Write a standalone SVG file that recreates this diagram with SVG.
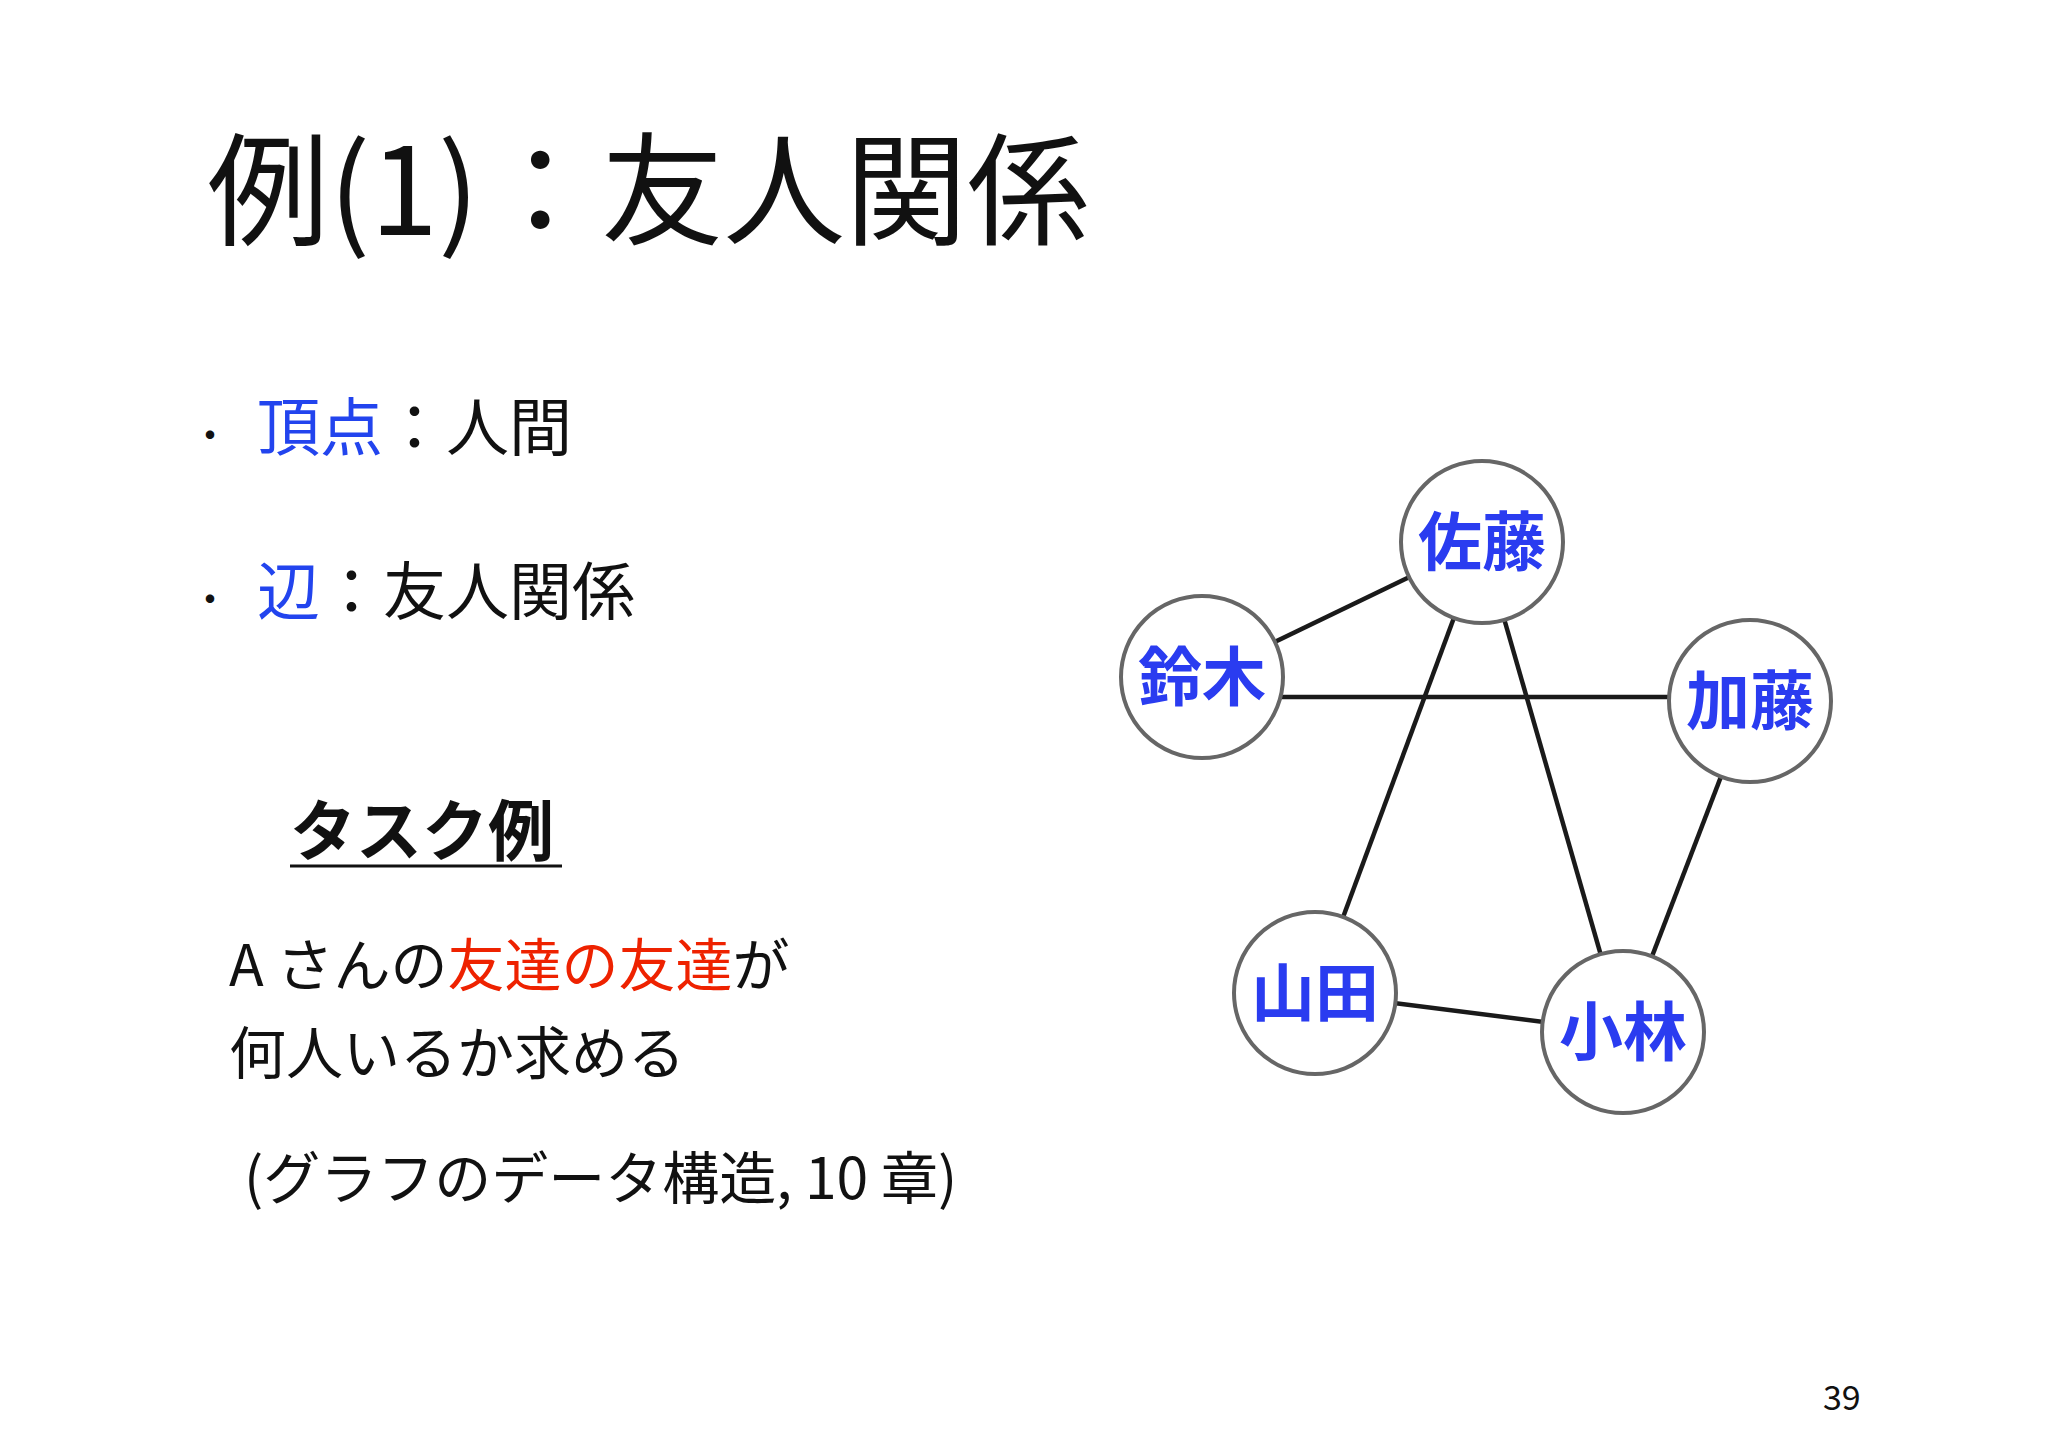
<svg xmlns="http://www.w3.org/2000/svg" width="2048" height="1447" viewBox="0 0 2048 1447">
<style>
text{font-family:"Noto Sans CJK JP","Noto Sans",sans-serif;fill:#111}
.b{fill:#2244ee}
.r{fill:#ee2200}
.n circle{fill:#fff;stroke:#666;stroke-width:4}
.n text{font-weight:bold;font-size:64px;fill:#2a3cf0;stroke:#fff;stroke-width:6;paint-order:stroke;text-anchor:middle}
#edges line{stroke:#1a1a1a;stroke-width:4.5}
</style>
<rect width="2048" height="1447" fill="#fff"/>
<text x="207" y="235" font-size="122">例(1)：友人関係</text>
<text x="190" y="450" font-size="40">・</text>
<text x="257" y="450" font-size="63"><tspan class="b">頂点</tspan>：人間</text>
<text x="190" y="614" font-size="40">・</text>
<text x="257" y="614" font-size="63"><tspan class="b">辺</tspan>：友人関係</text>
<text x="290" y="855" font-size="66" font-weight="bold">タスク例</text>
<line x1="290" y1="866" x2="562" y2="866" stroke="#111" stroke-width="3"/>
<text x="229" y="986" font-size="57">A さんの<tspan class="r">友達の友達</tspan>が</text>
<text x="229" y="1074" font-size="57">何人いるか求める</text>
<text x="244" y="1199" font-size="57">(グラフのデータ構造, 10 章)</text>
<text x="1823" y="1410" font-size="34">39</text>
<g id="edges">
<line x1="1202" y1="677" x2="1482" y2="542"/>
<line x1="1202" y1="697" x2="1750" y2="697"/>
<line x1="1482" y1="542" x2="1315" y2="993"/>
<line x1="1482" y1="542" x2="1623" y2="1032"/>
<line x1="1750" y1="701" x2="1623" y2="1032"/>
<line x1="1315" y1="993" x2="1623" y2="1032"/>
</g>
<g id="sato" class="n"><circle cx="1482" cy="542" r="81"/><text x="1482" y="565">佐藤</text></g>
<g id="suzuki" class="n"><circle cx="1202" cy="677" r="81"/><text x="1202" y="700">鈴木</text></g>
<g id="kato" class="n"><circle cx="1750" cy="701" r="81"/><text x="1750" y="724">加藤</text></g>
<g id="yamada" class="n"><circle cx="1315" cy="993" r="81"/><text x="1315" y="1016">山田</text></g>
<g id="kobayashi" class="n"><circle cx="1623" cy="1032" r="81"/><text x="1623" y="1055">小林</text></g>
</svg>
